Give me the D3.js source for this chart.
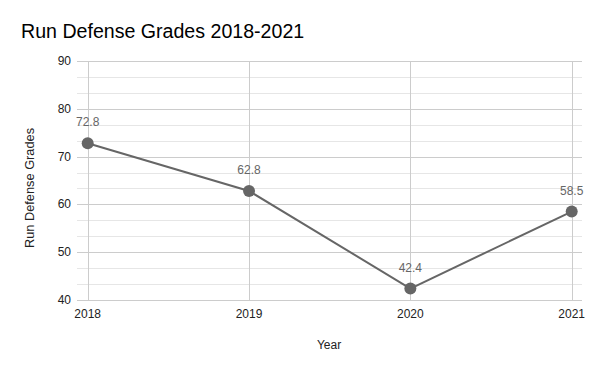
<!DOCTYPE html>
<html>
<head>
<meta charset="utf-8">
<title>Run Defense Grades</title>
<script src="https://cdn.jsdelivr.net/npm/d3@7"></script>
<style>
  body { margin: 0; background: #fff; }
  text { font-family: "Liberation Sans", Arial, sans-serif; }
</style>
</head>
<body>
<div id="chart"></div>
<script>
// data
var years = ["2018", "2019", "2020", "2021"];
var grades = [72.8, 62.8, 42.4, 58.5];
var yTicks = [40, 50, 60, 70, 80, 90];

var width = 600, height = 371;

var svg = d3.select("#chart").append("svg")
    .attr("width", width)
    .attr("height", height);

var x = d3.scalePoint().domain(years).range([87.7, 571.7]);
var y = d3.scaleLinear().domain([40, 90]).range([300, 61]);

var gridLeft = 77, gridRight = 582;

// minor gridlines
var minor = [];
for (var i = 0; i < yTicks.length - 1; i++) {
  var step = (yTicks[i + 1] - yTicks[i]) / 3;
  minor.push(yTicks[i] + step, yTicks[i] + 2 * step);
}
svg.append("g").selectAll("line").data(minor).enter().append("line")
    .attr("x1", gridLeft).attr("x2", gridRight)
    .attr("y1", d => Math.round(y(d)) + 0.5).attr("y2", d => Math.round(y(d)) + 0.5)
    .attr("stroke", "#e6e6e6");

// major gridlines
svg.append("g").selectAll("line").data(yTicks).enter().append("line")
    .attr("x1", gridLeft).attr("x2", gridRight)
    .attr("y1", d => Math.round(y(d)) + 0.5).attr("y2", d => Math.round(y(d)) + 0.5)
    .attr("stroke", "#cccccc");

// vertical gridlines
svg.append("g").selectAll("line").data(years).enter().append("line")
    .attr("x1", d => Math.round(x(d)) + 0.5).attr("x2", d => Math.round(x(d)) + 0.5)
    .attr("y1", y(90)).attr("y2", y(40))
    .attr("stroke", "#cccccc");

// y tick labels
svg.append("g").selectAll("text").data(yTicks).enter().append("text")
    .attr("x", 71)
    .attr("y", d => y(d) + 4)
    .attr("text-anchor", "end")
    .attr("font-size", 12)
    .attr("fill", "#222")
    .text(d => d);

// x tick labels
svg.append("g").selectAll("text").data(years).enter().append("text")
    .attr("x", d => x(d))
    .attr("y", 318)
    .attr("text-anchor", "middle")
    .attr("font-size", 12)
    .attr("fill", "#222")
    .text(d => d);

// title
svg.append("text")
    .attr("x", 21).attr("y", 38)
    .attr("font-size", 19.6)
    .attr("fill", "#000")
    .text("Run Defense Grades 2018-2021");

// axis titles
svg.append("text")
    .attr("x", 329).attr("y", 349)
    .attr("text-anchor", "middle")
    .attr("font-size", 12)
    .attr("fill", "#222")
    .text("Year");

svg.append("text")
    .attr("transform", "translate(34,188) rotate(-90)")
    .attr("text-anchor", "middle")
    .attr("font-size", 12.8)
    .attr("fill", "#222")
    .text("Run Defense Grades");

// line
var line = d3.line()
    .x((d, i) => x(years[i]))
    .y(d => y(d));

svg.append("path")
    .datum(grades)
    .attr("d", line)
    .attr("fill", "none")
    .attr("stroke", "#666666")
    .attr("stroke-width", 2);

svg.append("g").selectAll("circle").data(grades).enter().append("circle")
    .attr("cx", (d, i) => x(years[i]))
    .attr("cy", d => y(d))
    .attr("r", 6)
    .attr("fill", "#666666");

// data labels
svg.append("g").selectAll("text").data(grades).enter().append("text")
    .attr("x", (d, i) => x(years[i]))
    .attr("y", d => y(d) - 17)
    .attr("text-anchor", "middle")
    .attr("font-size", 12)
    .attr("fill", "#666666")
    .text(d => d.toFixed(1));
</script>
</body>
</html>
